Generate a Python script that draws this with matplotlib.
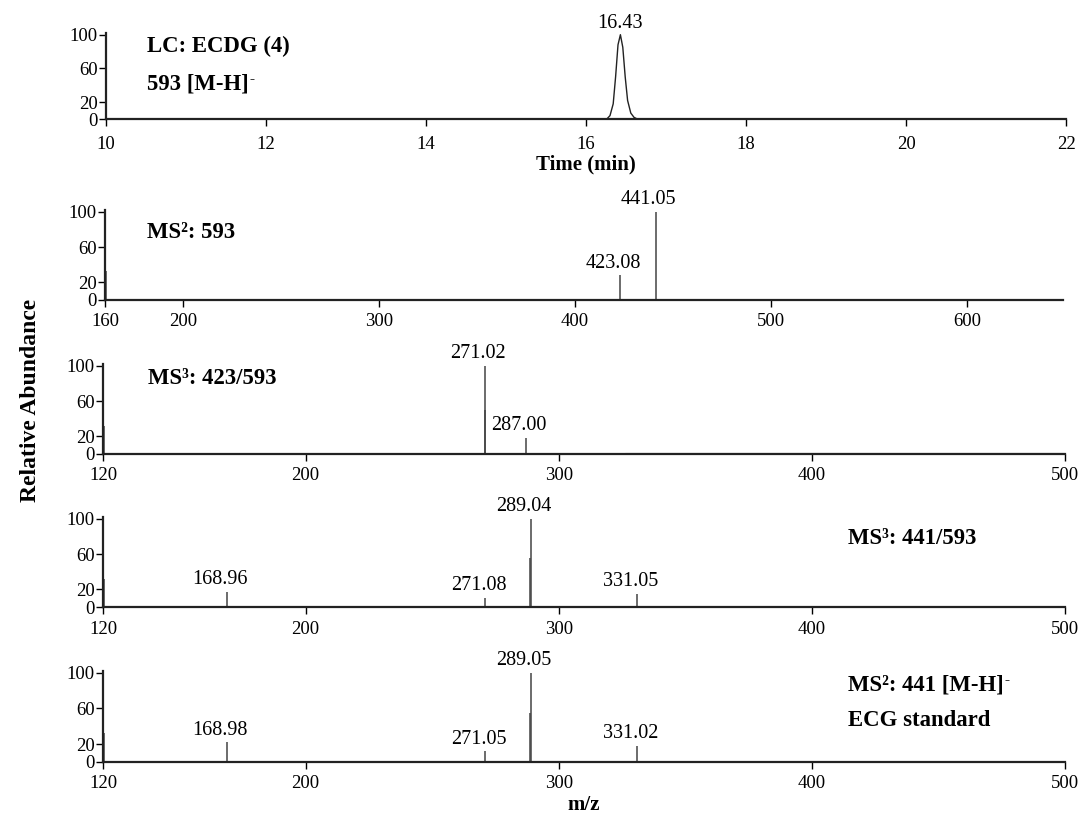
import matplotlib
matplotlib.use('Agg')
import matplotlib.pyplot as plt

plt.rcParams['font.family'] = ['Liberation Serif', 'DejaVu Serif']

W, H = 1085, 816

### LC trace ###
lc_time = [10.0, 16.26, 16.30, 16.34, 16.37, 16.40, 16.43, 16.46, 16.49, 16.52, 16.56, 16.60, 16.64, 22.0]
lc_int = [0, 0, 4, 18, 50, 88, 100, 85, 50, 22, 7, 2, 0, 0]

### MS spectra: m/z, relative abundance, labels ###
ms2_593_mz = [160.5, 423.08, 441.05]
ms2_593_int = [33, 28, 100]
ms2_593_lab = [None, '423.08', '441.05']

ms3_423_mz = [120.5, 270.7, 271.02, 287.00]
ms3_423_int = [32, 50, 100, 18]
ms3_423_lab = [None, None, '271.02', '287.00']

ms3_441_mz = [120.5, 168.96, 271.08, 288.7, 289.04, 331.05]
ms3_441_int = [32, 17, 10, 55, 100, 15]
ms3_441_lab = [None, '168.96', '271.08', None, '289.04', '331.05']

ecg_mz = [120.5, 168.98, 271.05, 288.7, 289.05, 331.02]
ecg_int = [32, 22, 12, 55, 100, 18]
ecg_lab = [None, '168.98', '271.05', None, '289.05', '331.02']


def axes_px(left, right, y0, y100):
    # axes from pixel positions of x-range and the 0/100 ticks
    return [left / W, 1 - y0 / H, (right - left) / W, (y0 - y100) / H]


def style(ax, xlim, xticks, pad=4):
    ax.set_xlim(*xlim)
    ax.set_ylim(0, 102)
    ax.set_xticks(xticks)
    ax.set_yticks([0, 20, 60, 100])
    for s in ['top', 'right']:
        ax.spines[s].set_visible(False)
    for s in ['left', 'bottom']:
        ax.spines[s].set_linewidth(1.6)
        ax.spines[s].set_color('#222222')
    ax.tick_params(direction='out', length=5, width=1, labelsize=13.5, pad=1)
    ax.tick_params(axis='x', pad=pad)


def spectrum(ax, mz, inten, labs):
    ax.vlines(mz, 0, inten, color='#444444', lw=1.1)
    for m, i, l in zip(mz, inten, labs):
        if l:
            ax.annotate(l, (m, i), xytext=(-5, 2), textcoords='offset points',
                        ha='center', va='bottom', fontsize=14.5)


fig = plt.figure(figsize=(W / 100, H / 100), dpi=100)

# LC chromatogram
ax1 = fig.add_axes(axes_px(106, 1066, 119, 33))
ax1.plot(lc_time, lc_int, color='#222222', lw=1)
style(ax1, (10, 22), [10, 12, 14, 16, 18, 20, 22], pad=7)
ax1.annotate('16.43', (16.43, 100), xytext=(0, 1), textcoords='offset points',
             ha='center', va='bottom', fontsize=14.5)
ax1.set_xlabel('Time (min)', fontsize=15, fontweight='bold', labelpad=1)

# MS2 593
ax2 = fig.add_axes(axes_px(105, 1063, 300, 210))
spectrum(ax2, ms2_593_mz, ms2_593_int, ms2_593_lab)
style(ax2, (160, 649), [160, 200, 300, 400, 500, 600])

# MS3 423/593
ax3 = fig.add_axes(axes_px(103, 1065, 454, 364))
spectrum(ax3, ms3_423_mz, ms3_423_int, ms3_423_lab)
ax3.hlines(0.4, 326, 500, color='#222222', lw=2.2)
style(ax3, (120, 500), [120, 200, 300, 400, 500])

# MS3 441/593
ax4 = fig.add_axes(axes_px(103, 1065, 607, 517))
spectrum(ax4, ms3_441_mz, ms3_441_int, ms3_441_lab)
style(ax4, (120, 500), [120, 200, 300, 400, 500], pad=5)

# MS2 441 ECG standard
ax5 = fig.add_axes(axes_px(103, 1065, 762, 671))
spectrum(ax5, ecg_mz, ecg_int, ecg_lab)
style(ax5, (120, 500), [120, 200, 300, 400, 500], pad=4)
ax5.set_xlabel('m/z', fontsize=15, fontweight='bold', labelpad=2.5)

# panel titles
bold = dict(fontsize=16.4, fontweight='bold', va='center', ha='left')
renderer = fig.canvas.get_renderer()


def title_minus(x, y, s):
    # text followed by a small raised hyphen, like [M-H]-
    t = fig.text(x / W, 1 - y / H, s, **bold)
    bb = t.get_window_extent(renderer)
    fig.text((bb.x1 + 1) / W, (bb.y1 - 0.28 * bb.height) / H, '-', fontsize=11,
             fontweight='bold', ha='left', va='center')


fig.text(147 / W, 1 - 46 / H, 'LC: ECDG (4)', **bold)
title_minus(147, 84, '593 [M-H]')
fig.text(147 / W, 1 - 233 / H, 'MS²: 593', **bold)
fig.text(148 / W, 1 - 378 / H, 'MS³: 423/593', **bold)
fig.text(848 / W, 1 - 538 / H, 'MS³: 441/593', **bold)
title_minus(848, 685, 'MS²: 441 [M-H]')
fig.text(848 / W, 1 - 721 / H, 'ECG standard', **bold)

fig.text(30 / W, 1 - 400 / H, 'Relative Abundance', rotation=90, fontsize=17,
         fontweight='bold', ha='center', va='center')

plt.savefig('out.png', dpi=100)
